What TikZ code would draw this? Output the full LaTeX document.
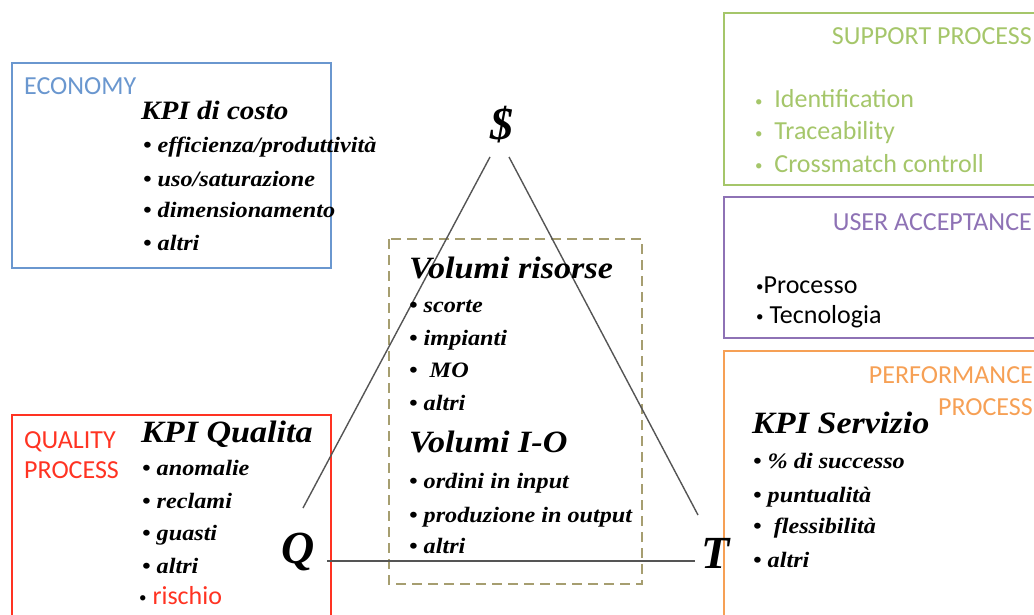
\documentclass[tikz,border=0pt]{standalone}
\usepackage{fontspec}
\newfontfamily\kpi{Liberation Serif}[FakeStretch=1.1]
\newfontfamily\kpiplain{Liberation Serif}
\newfontfamily\calib{Carlito}
\newcommand{\smallbul}{{\fontsize{15}{15}\selectfont\raisebox{1.5pt}{•}}}
\definecolor{ecoblue}{HTML}{6A97CF}
\definecolor{qualred}{HTML}{FF3322}
\definecolor{suppgreen}{HTML}{A5C66A}
\definecolor{userpurple}{HTML}{8E72B5}
\definecolor{perforange}{HTML}{F6A055}
\definecolor{volkhaki}{HTML}{A69E70}
\definecolor{edgegray}{HTML}{555555}
\tikzset{
  areabox/.style={line width=2pt},
  kpihead/.style={anchor=base west, inner sep=0pt, font=\kpi\bfseries\itshape\fontsize{31}{36}\selectfont},
  kpismall/.style={anchor=base west, inner sep=0pt, font=\kpi\bfseries\itshape\fontsize{26.5}{31}\selectfont},
  kpiitem/.style={anchor=base west, inner sep=0pt, font=\kpi\bfseries\itshape\fontsize{22}{26}\selectfont},
  vertex/.style={anchor=base west, inner sep=0pt, font=\kpiplain\bfseries\itshape\fontsize{46}{50}\selectfont},
  arealabel/.style={inner sep=0pt, font=\calib\fontsize{26}{30}\selectfont},
  edge/.style={draw=edgegray, line width=1.4pt}
}
\begin{document}
\begin{tikzpicture}[x=1pt,y=-1pt]
\useasboundingbox (0,0) rectangle (1034,615);
\begin{scope}
\clip (0,0) rectangle (1034,615);
% area frames
\draw[areabox, ecoblue] (12,63) rectangle (331,268);
\draw[areabox, qualred] (12,415) rectangle (331,625);
\draw[areabox, suppgreen] (724,13) rectangle (1045,185);
\draw[areabox, userpurple] (724,197) rectangle (1045,338);
\draw[areabox, perforange] (724,351) rectangle (1045,625);
\draw[volkhaki, line width=2pt, dash pattern=on 10pt off 6pt] (389,239) rectangle (642,584);
\end{scope}

% triangle of cost, quality and time
\node[vertex, anchor=base] (cost) at (502,140) {\$};
\node[vertex] (qual) at (281,563) {Q};
\node[vertex] (time) at (701,568) {T};
\coordinate (costL) at (490,157);
\coordinate (costR) at (509,157);
\coordinate (qualTop) at (303,508);
\coordinate (qualRight) at (327,561);
\coordinate (timeTop) at (698,515);
\coordinate (timeLeft) at (695,561);
\draw[edge] (costL) -- (qualTop);
\draw[edge] (costR) -- (timeTop);
\draw[edge] (qualRight) -- (timeLeft);

% economy
\node[arealabel, text=ecoblue, anchor=base west] (ecotitle) at (24,95) {ECONOMY};
\node[kpismall] (costhead) at (141,120) {KPI di costo};
\node[kpiitem] (c1) at (143,153) {• efficienza/produttività};
\node[kpiitem] (c2) at (143,186) {• uso/saturazione};
\node[kpiitem] (c3) at (143,218) {• dimensionamento};
\node[kpiitem] (c4) at (143,250) {• altri};

% quality
\node[arealabel, text=qualred, anchor=base west] (qtitle1) at (24,448) {QUALITY};
\node[arealabel, text=qualred, anchor=base west] (qtitle2) at (24,478) {PROCESS};
\node[kpihead] (qualhead) at (141,442) {KPI Qualita};
\node[kpiitem] (q1) at (142,475) {• anomalie};
\node[kpiitem] (q2) at (142,508) {• reclami};
\node[kpiitem] (q3) at (142,540) {• guasti};
\node[kpiitem] (q4) at (142,573) {• altri};
\node[arealabel, anchor=base west] (q5) at (139,604) {\smallbul\ \textcolor{qualred}{rischio}};

% volumes
\node[kpihead] (volhead1) at (409,278) {Volumi risorse};
\node[kpiitem] (v1) at (409,312) {• scorte};
\node[kpiitem] (v2) at (409,345) {• impianti};
\node[kpiitem] (v3) at (409,377) {•\ \ MO};
\node[kpiitem] (v4) at (409,410) {• altri};
\node[kpihead] (volhead2) at (409,452) {Volumi I-O};
\node[kpiitem] (v5) at (409,488) {• ordini in input};
\node[kpiitem] (v6) at (409,522) {• produzione in output};
\node[kpiitem] (v7) at (409,553) {• altri};

% support process
\node[arealabel, text=suppgreen, anchor=base east] (stitle) at (1032,45) {SUPPORT PROCESS};
\node[arealabel, text=suppgreen, anchor=base west] (s1) at (755,108) {\smallbul\ \ Identification};
\node[arealabel, text=suppgreen, anchor=base west] (s2) at (755,140) {\smallbul\ \ Traceability};
\node[arealabel, text=suppgreen, anchor=base west] (s3) at (755,172) {\smallbul\ \ Crossmatch controll};

% user acceptance
\node[arealabel, text=userpurple, anchor=base east] (utitle) at (1032,230) {USER ACCEPTANCE};
\node[arealabel, anchor=base west] (u1) at (756,293) {\smallbul Processo};
\node[arealabel, anchor=base west] (u2) at (756,323) {\smallbul\ Tecnologia};

% performance process
\node[arealabel, text=perforange, anchor=base east] (ptitle1) at (1033,383) {PERFORMANCE};
\node[arealabel, text=perforange, anchor=base east] (ptitle2) at (1033,415) {PROCESS};
\node[kpihead] (servhead) at (752,433) {KPI Servizio};
\node[kpiitem] (p1) at (753,468) {• \% di successo};
\node[kpiitem] (p2) at (753,502) {• puntualità};
\node[kpiitem] (p3) at (753,533) {•\ \ flessibilità};
\node[kpiitem] (p4) at (753,567) {• altri};
\end{tikzpicture}
\end{document}
